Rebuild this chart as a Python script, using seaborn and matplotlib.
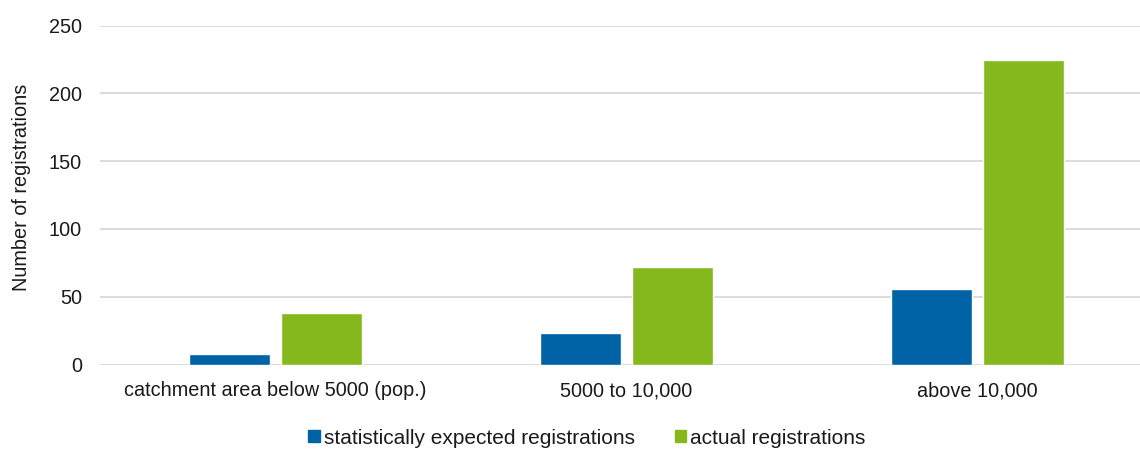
import matplotlib
matplotlib.use("Agg")
import matplotlib.pyplot as plt
import seaborn as sns
import pandas as pd

categories = ["catchment area below 5000 (pop.)", "5000 to 10,000", "above 10,000"]
expected = [8, 23, 56]
actual = [38, 72, 225]
series_names = ["statistically expected registrations", "actual registrations"]
y_ticks = [0, 50, 100, 150, 200, 250]

df = pd.DataFrame({
    "category": categories * 2,
    "series": [series_names[0]] * 3 + [series_names[1]] * 3,
    "value": expected + actual,
})

sns.set_theme(style="white")
plt.rcParams["font.family"] = ["Liberation Sans", "DejaVu Sans"]

FS = 14.3
TXT = "#1a1a1a"

fig = plt.figure(figsize=(11.4, 4.49), dpi=100)
ax = fig.add_axes([100 / 1140, 1 - 364.5 / 449, 1040 / 1140, (364.5 - 25.7) / 449])

palette = {series_names[0]: "#0063A6", series_names[1]: "#84B81C"}
sns.barplot(data=df, x="category", y="value", hue="series", order=categories,
            hue_order=series_names, palette=palette, width=0.52, gap=0.11,
            saturation=1, ax=ax, legend=False)

ax.set_ylim(0, 250)
ax.set_xlim(-0.5, 2.5 - 13 / 351)
ax.set_yticks(y_ticks)
ax.yaxis.grid(True, color="#D9D9D9", linewidth=1.3)
ax.set_axisbelow(True)
for s in ax.spines.values():
    s.set_visible(False)
ax.tick_params(axis="both", length=0, labelsize=FS, colors=TXT)
ax.tick_params(axis="y", pad=13)
ax.tick_params(axis="x", pad=12)
ax.set_xlabel("")
ax.set_ylabel("Number of registrations", fontsize=FS, color=TXT)
ax.yaxis.set_label_coords(-69 / 1040, 0.522)

handles = [plt.Rectangle((0, 0), 1, 1, color=palette[n]) for n in series_names]
fig.legend(handles, series_names, loc="center", bbox_to_anchor=(587 / 1140, 1 - 438 / 449),
           ncol=2, frameon=False, fontsize=15, handlelength=0.55, handleheight=0.55,
           handletextpad=0.2, columnspacing=1.9, labelcolor=TXT)

fig.savefig("out.png", dpi=100)
